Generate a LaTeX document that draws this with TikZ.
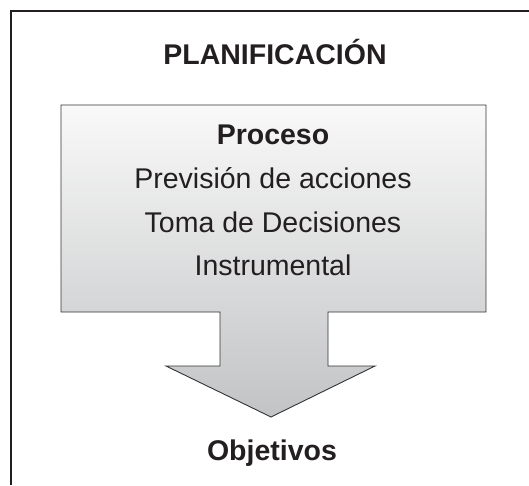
\documentclass[tikz,border=0pt]{standalone}
\usepackage{fontspec}
\setmainfont{Liberation Sans}
\usetikzlibrary{positioning}
\definecolor{topgray}{HTML}{F9F9F9}
\definecolor{lowgray}{HTML}{C2C3C5}
\definecolor{inkblack}{HTML}{231F20}

\begin{document}
\begin{tikzpicture}[x=1pt,y=1pt,inkblack,on grid,node distance=43.5pt,
    text node/.style={inner sep=0pt,text height=20pt,text depth=6pt,font=\fontsize{28.5}{34}\selectfont},
    title node/.style={text node,font=\fontsize{28.5}{34}\selectfont\bfseries}]
    \useasboundingbox (0,0) rectangle (529,485);
    % marco
    \draw[line width=2pt] (11,0) -- (11,474) -- (529,474);
    % caja con flecha
    \draw[line width=0.9pt,draw=black!80,top color=topgray,bottom color=lowgray]
        (61,380) -- (486,380) -- (486,173) -- (328,173) -- (328,119) -- (375,119)
        -- (271,68) -- (166,119) -- (220,119) -- (220,173) -- (61,173) -- cycle;

    \node[title node] (plan) at (275,427) {PLANIFICACIÓN};
    \node[title node] (proc) at (273,347) {Proceso};
    \node[text node] (prev) [below=of proc] {Previsión de acciones};
    \node[text node] (toma) [below=of prev] {Toma de Decisiones};
    \node[text node] (inst) [below=of toma] {Instrumental};
    \node[title node] (obj) at (272,32) {Objetivos};
\end{tikzpicture}
\end{document}
